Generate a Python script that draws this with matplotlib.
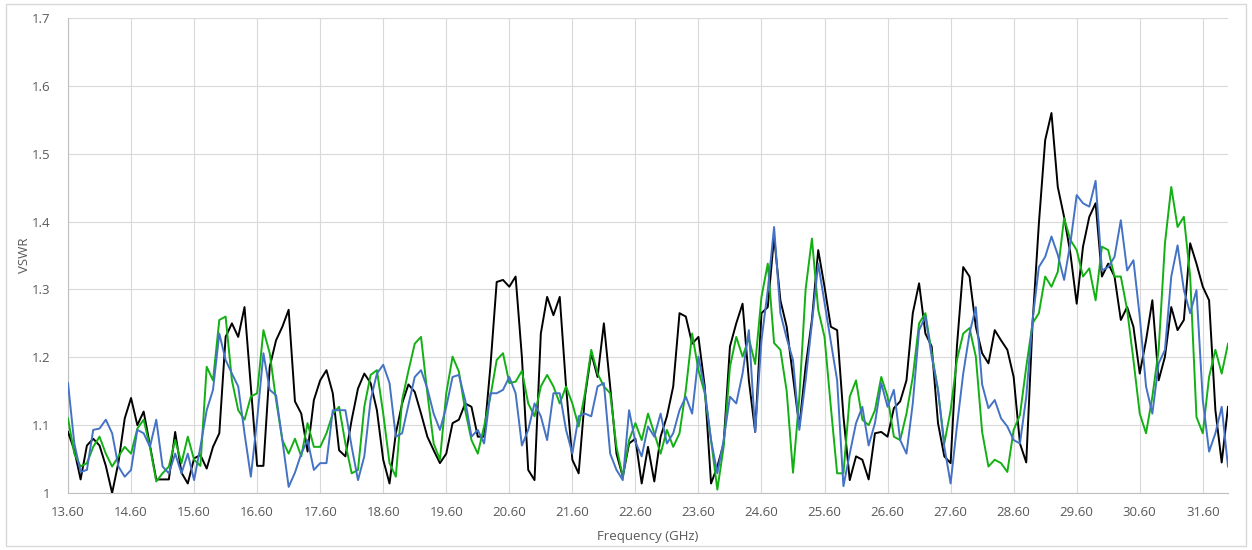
import numpy as np
import matplotlib
matplotlib.use("Agg")
import matplotlib.pyplot as plt
from matplotlib.patches import Rectangle

plt.rcParams['font.family'] = ['Open Sans', 'DejaVu Sans']

# frequency grid (GHz), 0.1 GHz steps from 13.6 to 32.0
freq = np.round(np.arange(13.6, 32.0001, 0.1), 1)

vswr_black = [
    1.090, 1.063, 1.020, 1.070, 1.080, 1.070, 1.040, 1.000, 1.045, 1.110,
    1.140, 1.100, 1.120, 1.070, 1.020, 1.020, 1.020, 1.090, 1.030, 1.014,
    1.051, 1.056, 1.036, 1.068, 1.088, 1.230, 1.250, 1.230, 1.274, 1.157,
    1.040, 1.040, 1.186, 1.225, 1.245, 1.270, 1.135, 1.117, 1.061, 1.137,
    1.166, 1.181, 1.147, 1.063, 1.054, 1.108, 1.154, 1.176, 1.162, 1.122,
    1.049, 1.014, 1.088, 1.132, 1.160, 1.149, 1.117, 1.083, 1.063, 1.044,
    1.058, 1.103, 1.108, 1.132, 1.127, 1.083, 1.083, 1.186, 1.311, 1.314,
    1.304, 1.319, 1.200, 1.034, 1.019, 1.235, 1.289, 1.262, 1.289, 1.157,
    1.049, 1.029, 1.142, 1.206, 1.171, 1.250, 1.157, 1.058, 1.024, 1.073,
    1.080, 1.014, 1.068, 1.017, 1.083, 1.113, 1.157, 1.265, 1.260, 1.220,
    1.230, 1.157, 1.014, 1.039, 1.073, 1.216, 1.250, 1.279, 1.166, 1.090,
    1.265, 1.274, 1.378, 1.284, 1.245, 1.171, 1.098, 1.186, 1.255, 1.358,
    1.304, 1.245, 1.240, 1.113, 1.019, 1.054, 1.049, 1.020, 1.088, 1.090,
    1.083, 1.125, 1.135, 1.166, 1.265, 1.309, 1.235, 1.216, 1.103, 1.054,
    1.044, 1.216, 1.333, 1.319, 1.245, 1.206, 1.191, 1.240, 1.225, 1.211,
    1.171, 1.073, 1.045, 1.250, 1.397, 1.520, 1.560, 1.451, 1.407, 1.353,
    1.279, 1.363, 1.407, 1.427, 1.319, 1.338, 1.319, 1.255, 1.274, 1.245,
    1.176, 1.225, 1.284, 1.166, 1.201, 1.274, 1.240, 1.255, 1.368, 1.338,
    1.304, 1.284, 1.122, 1.045, 1.127,
]

vswr_green = [
    1.110, 1.058, 1.039, 1.044, 1.068, 1.083, 1.058, 1.039, 1.054, 1.068,
    1.058, 1.095, 1.108, 1.068, 1.017, 1.029, 1.039, 1.078, 1.044, 1.083,
    1.049, 1.040, 1.186, 1.166, 1.255, 1.260, 1.166, 1.122, 1.108, 1.142,
    1.147, 1.240, 1.206, 1.137, 1.078, 1.058, 1.080, 1.054, 1.103, 1.068,
    1.068, 1.088, 1.117, 1.127, 1.073, 1.029, 1.034, 1.127, 1.174, 1.181,
    1.117, 1.044, 1.024, 1.137, 1.180, 1.220, 1.230, 1.147, 1.073, 1.049,
    1.147, 1.201, 1.179, 1.122, 1.078, 1.058, 1.098, 1.142, 1.196, 1.206,
    1.162, 1.164, 1.180, 1.132, 1.113, 1.157, 1.174, 1.157, 1.132, 1.157,
    1.132, 1.098, 1.147, 1.211, 1.176, 1.157, 1.147, 1.068, 1.024, 1.078,
    1.103, 1.078, 1.117, 1.088, 1.058, 1.093, 1.068, 1.088, 1.152, 1.235,
    1.181, 1.147, 1.078, 1.005, 1.068, 1.186, 1.230, 1.201, 1.228, 1.190,
    1.289, 1.338, 1.221, 1.211, 1.150, 1.030, 1.140, 1.300, 1.375, 1.270,
    1.230, 1.127, 1.029, 1.029, 1.142, 1.166, 1.108, 1.100, 1.122, 1.171,
    1.142, 1.083, 1.078, 1.117, 1.171, 1.250, 1.265, 1.206, 1.152, 1.073,
    1.122, 1.196, 1.235, 1.243, 1.201, 1.090, 1.039, 1.049, 1.044, 1.031,
    1.093, 1.115, 1.186, 1.250, 1.265, 1.319, 1.304, 1.326, 1.405, 1.373,
    1.358, 1.319, 1.331, 1.284, 1.363, 1.358, 1.319, 1.319, 1.270, 1.196,
    1.117, 1.088, 1.142, 1.211, 1.368, 1.451, 1.392, 1.407, 1.319, 1.112,
    1.088, 1.171, 1.211, 1.176, 1.220,
]

vswr_blue = [
    1.162, 1.073, 1.031, 1.034, 1.093, 1.095, 1.108, 1.088, 1.039, 1.024,
    1.034, 1.093, 1.088, 1.068, 1.108, 1.039, 1.029, 1.058, 1.029, 1.058,
    1.019, 1.068, 1.122, 1.152, 1.235, 1.196, 1.176, 1.157, 1.088, 1.024,
    1.108, 1.206, 1.152, 1.144, 1.078, 1.009, 1.030, 1.058, 1.078, 1.034,
    1.044, 1.044, 1.122, 1.122, 1.122, 1.068, 1.019, 1.054, 1.137, 1.176,
    1.189, 1.162, 1.083, 1.088, 1.130, 1.171, 1.181, 1.154, 1.117, 1.093,
    1.127, 1.171, 1.174, 1.137, 1.083, 1.093, 1.073, 1.147, 1.147, 1.152,
    1.171, 1.147, 1.070, 1.093, 1.132, 1.113, 1.078, 1.147, 1.147, 1.093,
    1.058, 1.113, 1.117, 1.113, 1.157, 1.162, 1.058, 1.034, 1.019, 1.122,
    1.075, 1.054, 1.098, 1.083, 1.117, 1.073, 1.088, 1.122, 1.142, 1.117,
    1.201, 1.152, 1.078, 1.029, 1.078, 1.142, 1.132, 1.176, 1.240, 1.090,
    1.225, 1.299, 1.392, 1.265, 1.228, 1.196, 1.093, 1.166, 1.250, 1.338,
    1.280, 1.223, 1.166, 1.010, 1.058, 1.103, 1.127, 1.070, 1.103, 1.162,
    1.127, 1.152, 1.078, 1.058, 1.132, 1.240, 1.260, 1.201, 1.152, 1.068,
    1.014, 1.098, 1.176, 1.235, 1.274, 1.160, 1.125, 1.137, 1.110, 1.098,
    1.078, 1.073, 1.142, 1.255, 1.333, 1.348, 1.378, 1.351, 1.314, 1.368,
    1.439, 1.427, 1.422, 1.460, 1.328, 1.333, 1.348, 1.402, 1.328, 1.343,
    1.260, 1.157, 1.117, 1.191, 1.211, 1.319, 1.365, 1.299, 1.265, 1.299,
    1.137, 1.061, 1.088, 1.127, 1.039,
]

x_ticks = np.round(np.arange(13.6, 31.61, 1.0), 1)
y_ticks = [1.0, 1.1, 1.2, 1.3, 1.4, 1.5, 1.6, 1.7]
y_labels = ['1', '1.1', '1.2', '1.3', '1.4', '1.5', '1.6', '1.7']

text_col = '#595959'
grid_col = '#d9d9d9'

fig = plt.figure(figsize=(12.52, 5.5), dpi=100)
ax = fig.add_axes([68/1252, 57/550, 1160/1252, 475/550])

ax.plot(freq, vswr_black, color='black', lw=1.4, zorder=3)
ax.plot(freq, vswr_green, color='#12b012', lw=1.4, zorder=4)
ax.plot(freq, vswr_blue, color='#4472c4', lw=1.4, zorder=5)

ax.set_xlim(13.6, 32.0)
ax.set_ylim(1.0, 1.7)
ax.set_xticks(x_ticks)
ax.set_xticklabels([f"{t:.2f}" for t in x_ticks])
ax.set_yticks(y_ticks)
ax.set_yticklabels(y_labels)
ax.tick_params(axis='both', length=0, colors=text_col, labelsize=9.5)
ax.tick_params(axis='x', pad=9)
ax.tick_params(axis='y', pad=13)
ax.grid(True, color=grid_col, lw=0.8)
ax.set_axisbelow(True)

for s in ['top', 'right']:
    ax.spines[s].set_visible(False)
ax.spines['left'].set_color('#bfbfbf')
ax.spines['bottom'].set_color('#bfbfbf')

ax.set_xlabel('Frequency (GHz)', color=text_col, fontsize=9.5, labelpad=8)
ax.set_ylabel('VSWR', color=text_col, fontsize=9.5, labelpad=0)

fig.patches.append(Rectangle((6/1252, 4/550), 1240/1252, 542/550, transform=fig.transFigure,
                             fill=False, edgecolor='#d9d9d9', lw=1))

fig.savefig('out.png', dpi=100)
